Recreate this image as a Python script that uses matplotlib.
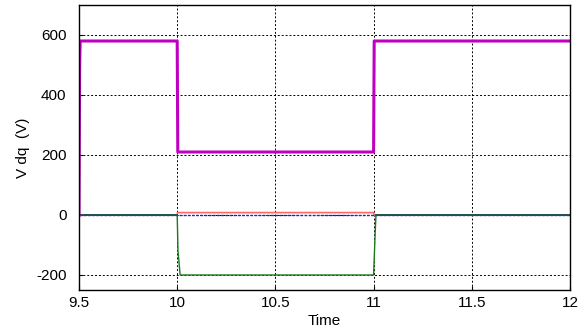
import matplotlib
matplotlib.use("Agg")
import matplotlib.pyplot as plt

plt.rcParams['font.family'] = ['Liberation Sans', 'DejaVu Sans']
plt.rcParams['axes.unicode_minus'] = False

# data
t_d = [9.5, 9.503, 9.506, 10.0, 10.003, 11.0, 11.003, 12.0]
v_d = [0, 490, 580, 580, 210, 210, 580, 580]

t_q = [9.5, 10.0, 10.002, 11.0, 11.003, 12.0]
v_red = [0, 0, 8, 8, 0, 0]
v_blue = [0, 0, 0, 0, 0, 0]

t_g = [9.5, 10.0, 10.004, 10.015, 11.0, 11.008, 11.012, 12.0]
v_green = [0, 0, -120, -200, -200, -60, 0, 0]

xticks = [9.5, 10, 10.5, 11, 11.5, 12]
xticklabels = ['9.5', '10', '10.5', '11', '11.5', '12']
yticks = [-200, 0, 200, 400, 600]

fig = plt.figure(figsize=(5.8, 3.31), dpi=100)
ax = fig.add_axes([79/580, 1-290/331, (570-79)/580, (290-5)/331])

ax.plot(t_q, v_red, color='#ff6666', lw=1.2)
ax.plot(t_q, v_blue, color='#2020dd', lw=1.0, ls=(0, (2, 1)))
ax.plot(t_g, v_green, color='#1a7a1a', lw=1.0)
ax.plot(t_g[:2], v_green[:2], color='#1f4f4a', lw=1.2)
ax.plot(t_g[-2:], v_green[-2:], color='#1f4f4a', lw=1.2)
ax.plot(t_d, v_d, color='#c000c0', lw=2.2)

ax.set_xlim(9.5, 12)
ax.set_ylim(-250, 700)
ax.set_xticks(xticks)
ax.set_xticklabels(xticklabels)
ax.set_yticks(yticks)
ax.tick_params(direction='in', labelsize=11, length=3, color='black')
ax.tick_params(axis='y', pad=9)
ax.tick_params(axis='x', pad=4)
ax.grid(True, color='black', ls=(0, (2, 2)), lw=0.7)
for s in ax.spines.values():
    s.set_linewidth(1.0)
ax.set_xlabel('Time', fontsize=11, labelpad=3)
ax.set_ylabel('V dq  (V)', fontsize=11, labelpad=4)

fig.savefig('out.png', dpi=100)
